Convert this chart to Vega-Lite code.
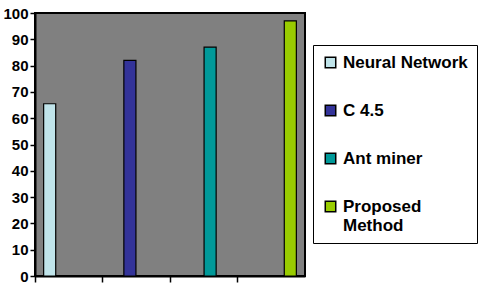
{
  "$schema": "https://vega.github.io/schema/vega-lite/v6.json",
  "width": 270,
  "height": 263,
  "autosize": {"type": "none"},
  "padding": {"left": 35, "top": 13, "right": 184, "bottom": 16},
  "background": "white",
  "config": {
    "view": {"fill": "#808080", "stroke": "black", "strokeWidth": 2},
    "font": "Liberation Sans"
  },
  "data": {
    "values": [
      {"group": "1", "method": "Neural Network", "accuracy": 65.5},
      {"group": "2", "method": "C 4.5", "accuracy": 82},
      {"group": "3", "method": "Ant miner", "accuracy": 87},
      {"group": "4", "method": "Proposed Method", "accuracy": 97}
    ]
  },
  "mark": {"type": "bar", "stroke": "black", "strokeWidth": 1.2},
  "encoding": {
    "x": {
      "field": "group",
      "type": "nominal",
      "scale": {"paddingInner": 0, "paddingOuter": 0},
      "axis": {
        "title": null,
        "labels": false,
        "bandPosition": 0,
        "domainColor": "black",
        "domainWidth": 2,
        "tickColor": "black",
        "tickWidth": 1.5,
        "tickSize": 6,
        "grid": false
      }
    },
    "xOffset": {
      "field": "method",
      "type": "nominal",
      "sort": ["Neural Network", "C 4.5", "Ant miner", "Proposed Method"],
      "scale": {"paddingInner": 0.05, "paddingOuter": 0.68}
    },
    "y": {
      "field": "accuracy",
      "type": "quantitative",
      "scale": {"domain": [0, 100], "nice": false},
      "axis": {
        "title": null,
        "values": [0, 10, 20, 30, 40, 50, 60, 70, 80, 90, 100],
        "grid": false,
        "domainColor": "black",
        "domainWidth": 2,
        "tickColor": "black",
        "tickWidth": 1.5,
        "tickSize": 5,
        "labelPadding": 2,
        "labelFont": "Liberation Sans",
        "labelFontWeight": "bold",
        "labelFontSize": 15,
        "labelColor": "black"
      }
    },
    "color": {
      "field": "method",
      "type": "nominal",
      "sort": ["Neural Network", "C 4.5", "Ant miner", "Proposed Method"],
      "scale": {
        "domain": ["Neural Network", "C 4.5", "Ant miner", "Proposed Method"],
        "range": ["#C0E4EA", "#333399", "#009999", "#99CC00"]
      },
      "legend": {
        "title": null,
        "orient": "none",
        "legendX": 278,
        "legendY": 32,
        "strokeColor": "black",
        "fillColor": "white",
        "padding": 9,
        "symbolType": "square",
        "symbolSize": 110,
        "symbolStrokeColor": "black",
        "symbolStrokeWidth": 1.5,
        "symbolOpacity": 1,
        "labelFont": "Liberation Sans",
        "labelFontWeight": "bold",
        "labelFontSize": 17,
        "labelColor": "black",
        "labelLimit": 200,
        "labelOffset": 4,
        "rowPadding": 30,
        "labelExpr": "datum.label == 'Proposed Method' ? ['Proposed', 'Method'] : datum.label"
      }
    }
  }
}
